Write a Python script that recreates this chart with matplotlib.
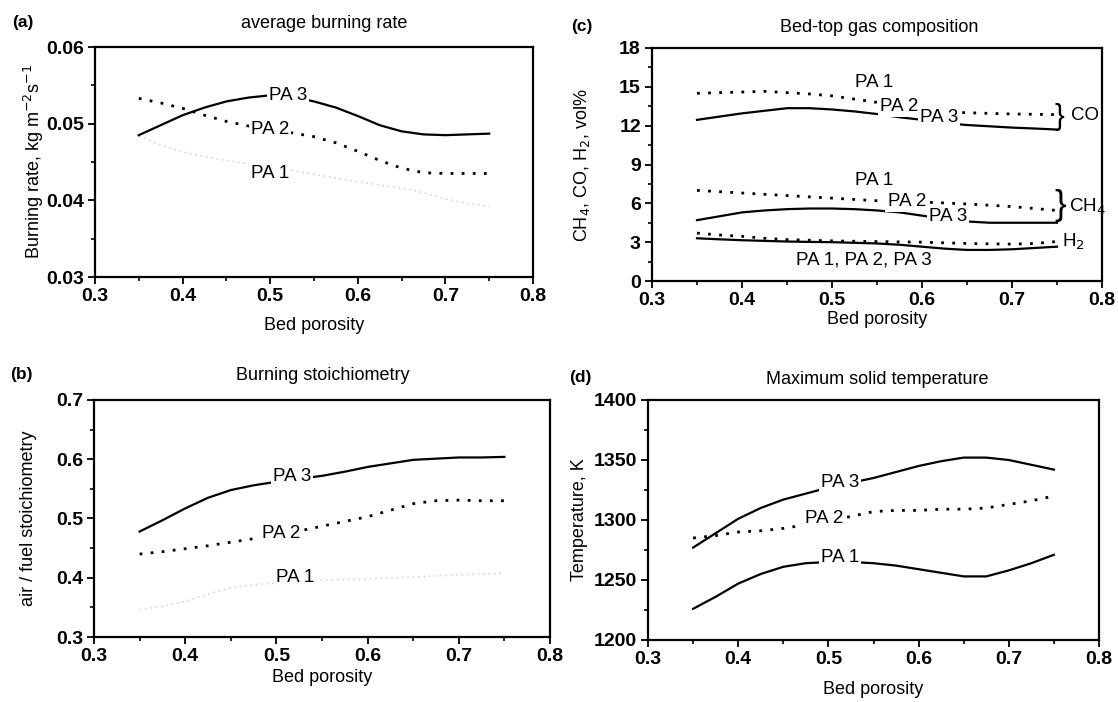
import numpy as np
import matplotlib.pyplot as plt
from matplotlib.ticker import MultipleLocator

plt.rcParams['font.family'] = ['Liberation Sans', 'DejaVu Sans']

porosity = [0.350, 0.375, 0.400, 0.425, 0.450, 0.475, 0.500, 0.525, 0.550,
            0.575, 0.600, 0.625, 0.650, 0.675, 0.700, 0.725, 0.750]

# (a) average burning rate, kg m-2 s-1
rate_pa1 = [0.0484, 0.0472, 0.0463, 0.0457, 0.0452, 0.0448, 0.0444, 0.0439, 0.0434,
            0.0429, 0.0424, 0.0420, 0.0416, 0.0410, 0.0402, 0.0396, 0.0392]
rate_pa2 = [0.0533, 0.0527, 0.0520, 0.0511, 0.0503, 0.0497, 0.0492, 0.0488, 0.0483,
            0.0475, 0.0464, 0.0452, 0.0442, 0.0436, 0.0435, 0.0435, 0.0435]
rate_pa3 = [0.0485, 0.0498, 0.0511, 0.0521, 0.0529, 0.0534, 0.0537, 0.0535, 0.0529,
            0.0521, 0.0510, 0.0498, 0.0490, 0.0486, 0.0485, 0.0486, 0.0487]

# (b) air/fuel stoichiometry
stoich_pa1 = [0.346, 0.352, 0.360, 0.372, 0.383, 0.388, 0.391, 0.394, 0.396,
              0.397, 0.398, 0.400, 0.401, 0.403, 0.405, 0.406, 0.408]
stoich_pa2 = [0.440, 0.444, 0.449, 0.454, 0.460, 0.466, 0.472, 0.479, 0.487,
              0.495, 0.503, 0.514, 0.525, 0.530, 0.531, 0.530, 0.530]
stoich_pa3 = [0.478, 0.497, 0.517, 0.535, 0.548, 0.556, 0.562, 0.567, 0.572,
              0.579, 0.587, 0.593, 0.599, 0.601, 0.603, 0.603, 0.604]

# (c) bed-top gas composition, vol%
co_pa2 = [14.50, 14.55, 14.60, 14.65, 14.55, 14.45, 14.30, 14.05, 13.80,
          13.50, 13.20, 13.05, 13.00, 12.95, 12.90, 12.88, 12.85]
co_pa3 = [12.45, 12.70, 12.95, 13.15, 13.35, 13.35, 13.25, 13.10, 12.90,
          12.65, 12.45, 12.20, 12.05, 11.95, 11.85, 11.78, 11.70]
ch4_pa2 = [7.00, 6.90, 6.80, 6.70, 6.60, 6.50, 6.40, 6.30, 6.20,
           6.15, 6.10, 6.03, 5.95, 5.85, 5.75, 5.60, 5.45]
ch4_pa3 = [4.70, 5.00, 5.30, 5.45, 5.55, 5.60, 5.60, 5.55, 5.45,
           5.30, 5.05, 4.80, 4.60, 4.50, 4.50, 4.50, 4.50]
h2_pa2 = [3.70, 3.55, 3.45, 3.30, 3.20, 3.15, 3.10, 3.07, 3.05,
          3.02, 3.00, 2.95, 2.90, 2.87, 2.85, 2.90, 3.05]
h2_pa3 = [3.30, 3.22, 3.15, 3.10, 3.05, 3.02, 3.00, 2.95, 2.90,
          2.80, 2.65, 2.50, 2.40, 2.40, 2.45, 2.55, 2.65]

# (d) maximum solid temperature, K
temp_pa1 = [1226, 1236, 1247, 1255, 1261, 1264, 1265, 1265, 1264,
            1262, 1259, 1256, 1253, 1253, 1258, 1264, 1271]
temp_pa2 = [1285, 1287, 1290, 1291, 1293, 1296, 1299, 1303, 1307,
            1308, 1308, 1309, 1309, 1310, 1313, 1316, 1320]
temp_pa3 = [1277, 1289, 1301, 1310, 1317, 1322, 1327, 1331, 1335,
            1340, 1345, 1349, 1352, 1352, 1350, 1346, 1342]

W, H = 1118, 702
fig = plt.figure(figsize=(W / 100, H / 100), dpi=100)


def box(l, t, r, b):
    return [l / W, 1 - b / H, (r - l) / W, (b - t) / H]


ax_a = fig.add_axes(box(95, 47, 533, 277))
ax_c = fig.add_axes(box(652, 48, 1102, 281))
ax_b = fig.add_axes(box(94, 400, 550, 637))
ax_d = fig.add_axes(box(648, 400, 1099, 640))

solid = dict(color='black', lw=1.6, ls='-')
dotted = dict(color='black', lw=2.0, ls=(0, (1, 3)))
faint = dict(color='#dadada', lw=1.3, ls=(0, (1, 2)))
lab = dict(fontsize=13.5, ha='center', va='center', zorder=5,
           bbox=dict(facecolor='white', edgecolor='none', pad=1.5))


def style(ax, ylim, ymajor, yminor, ylabel, title, tag, pos):
    # pos: pixel centres of title, x label, y label and panel tag
    (tx, ty), (xlx, xly), (ylx, yly), (gx, gy) = pos
    ax.set_xlim(0.3, 0.8)
    ax.set_ylim(*ylim)
    ax.xaxis.set_major_locator(MultipleLocator(0.1))
    ax.xaxis.set_minor_locator(MultipleLocator(0.05))
    ax.yaxis.set_major_locator(MultipleLocator(ymajor))
    ax.yaxis.set_minor_locator(MultipleLocator(yminor))
    ax.tick_params(which='major', direction='out', length=5, width=1.3,
                   labelsize=14, pad=3)
    ax.tick_params(which='minor', direction='out', length=3, width=1.2)
    for lbl in ax.get_xticklabels() + ax.get_yticklabels():
        lbl.set_fontweight('bold')
    for sp in ax.spines.values():
        sp.set_linewidth(1.6)
    ax.set_xlabel('Bed porosity', fontsize=13, va='center')
    ax.xaxis.set_label_coords(xlx / W, 1 - xly / H, transform=fig.transFigure)
    ax.set_ylabel(ylabel, fontsize=13, va='center')
    ax.yaxis.set_label_coords(ylx / W, 1 - yly / H, transform=fig.transFigure)
    fig.text(tx / W, 1 - ty / H, title, fontsize=13, ha='center', va='center')
    fig.text(gx / W, 1 - gy / H, tag, fontsize=12.5, fontweight='bold',
             ha='center', va='center')


# (a)
ax_a.plot(porosity, rate_pa1, **faint)
ax_a.plot(porosity, rate_pa2, **dotted)
ax_a.plot(porosity, rate_pa3, **solid)
ax_a.text(0.52, 0.0537, 'PA 3', **lab)
ax_a.text(0.50, 0.0492, 'PA 2', **lab)
ax_a.text(0.50, 0.0435, 'PA 1', **lab)
style(ax_a, (0.03, 0.06), 0.01, 0.005, 'Burning rate, kg m$^{-2}$s$^{-1}$',
      'average burning rate', '(a)',
      [(324, 23), (314, 325), (34, 162), (23, 23)])
ax_a.yaxis.set_major_formatter(lambda v, p: f'{v:.2f}')
for lbl in ax_a.get_yticklabels():
    lbl.set_fontweight('bold')

# (b)
ax_b.plot(porosity, stoich_pa1, **faint)
ax_b.plot(porosity, stoich_pa2, **dotted)
ax_b.plot(porosity, stoich_pa3, **solid)
ax_b.text(0.517, 0.571, 'PA 3', **lab)
ax_b.text(0.505, 0.475, 'PA 2', **lab)
ax_b.text(0.521, 0.400, 'PA 1', **lab)
style(ax_b, (0.3, 0.7), 0.1, 0.05, 'air / fuel stoichiometry',
      'Burning stoichiometry', '(b)',
      [(323, 375), (322, 678), (29, 518), (21, 375)])

# (c)
ax_c.plot(porosity, co_pa2, **dotted)
ax_c.plot(porosity, co_pa3, **solid)
ax_c.plot(porosity, ch4_pa2, **dotted)
ax_c.plot(porosity, ch4_pa3, **solid)
ax_c.plot(porosity, h2_pa2, **dotted)
ax_c.plot(porosity, h2_pa3, **solid)
ax_c.text(0.547, 15.3, 'PA 1', **lab)
ax_c.text(0.575, 13.5, 'PA 2', **lab)
ax_c.text(0.619, 12.6, 'PA 3', **lab)
ax_c.text(0.547, 7.8, 'PA 1', **lab)
ax_c.text(0.583, 6.15, 'PA 2', **lab)
ax_c.text(0.629, 5.0, 'PA 3', **lab)
ax_c.text(0.535, 1.6, 'PA 1, PA 2, PA 3', **lab)
ax_c.text(0.753, 12.7, '}', fontsize=21, ha='center', va='center')
ax_c.text(0.765, 12.8, 'CO', fontsize=13.5, ha='left', va='center')
ax_c.text(0.753, 5.8, '}', fontsize=25, ha='center', va='center')
ax_c.text(0.763, 5.7, 'CH$_4$', fontsize=13.5, ha='left', va='center')
ax_c.text(0.756, 3.0, 'H$_2$', fontsize=13.5, ha='left', va='center')
style(ax_c, (0, 18), 3, 1.5, 'CH$_4$, CO, H$_2$, vol%',
      'Bed-top gas composition', '(c)',
      [(879, 28), (877, 320), (582, 165), (582, 27)])

# (d)
ax_d.plot(porosity, temp_pa1, **solid)
ax_d.plot(porosity, temp_pa2, **dotted)
ax_d.plot(porosity, temp_pa3, **solid)
ax_d.text(0.513, 1331, 'PA 3', **lab)
ax_d.text(0.495, 1301, 'PA 2', **lab)
ax_d.text(0.513, 1269, 'PA 1', **lab)
style(ax_d, (1200, 1400), 50, 25, 'Temperature, K',
      'Maximum solid temperature', '(d)',
      [(877, 380), (873, 689), (580, 520), (580, 377)])

fig.savefig('out.png', dpi=100)
